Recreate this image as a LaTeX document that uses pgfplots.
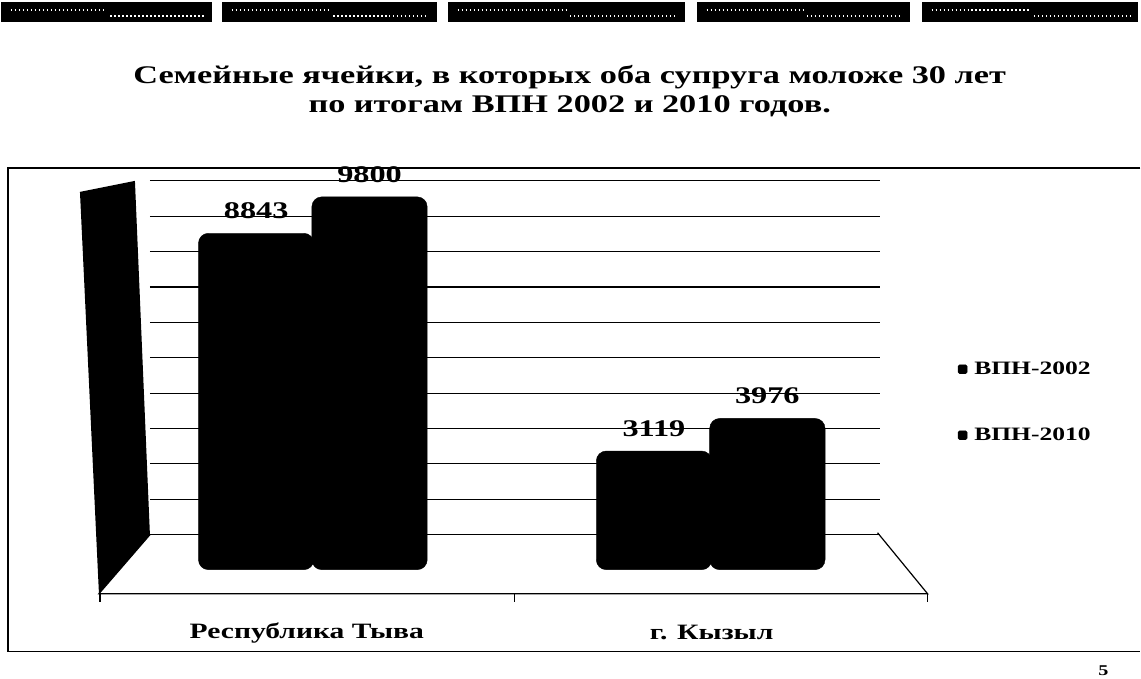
\documentclass[border=0pt]{standalone}
\usepackage{fontspec}
\setmainfont{Liberation Serif}[FakeStretch=1.35]
\usepackage{pgfplots}
\pgfplotsset{compat=1.18}
\begin{document}
\begin{tikzpicture}[x=1bp,y=1bp]
\path (0,0) rectangle (1141,678);
% top decorative strips
\foreach \a/\b in {1/212,222/437,448/685,697/910,922/1139}{
  \fill[black] (\a,656) rectangle (\b,676);
  \draw[white, line width=1.2bp, dash pattern=on 1.2bp off 2.8bp] (\a+10,668) -- (\a+0.5*\b-0.5*\a,668);
  \draw[white, line width=1.2bp, dash pattern=on 1.2bp off 2.8bp] (\a+0.5*\b-0.5*\a+4,662) -- (\b-8,662);
}
% title
\node[font=\bfseries\fontsize{25.5}{30}\selectfont] at (570,601) {Семейные ячейки, в которых оба супруга моложе 30 лет};
\node[font=\bfseries\fontsize{25.5}{30}\selectfont] at (570,572) {по итогам ВПН 2002 и 2010 годов.};
% frame
\draw[line width=1.2bp] (1141,510) -- (8,510) -- (8,26) -- (1141,26);
% page number
\node[font=\bfseries\fontsize{15}{18}\selectfont] at (1104,7) {5};
\begin{axis}[
  at={(150bp,83bp)}, anchor=south west,
  scale only axis, width=730bp, height=414bp,
  xmin=-0.407, xmax=1.427,
  ymin=-657, ymax=10220,
  axis line style={draw=none},
  tick style={draw=none},
  scaled y ticks=false,
  yticklabels={},
  ybar, bar width=0.29,
  ytick={920,1850,2780,3710,4640,5570,6500,7430,8360,9290,10220},
  ymajorgrids, grid style={black, line width=1.1bp},
  xtick=\empty,
  clip=false,
  /pgf/number format/1000 sep={},
  /pgf/number format/assume math mode=true,
  nodes near coords,
  every node near coord/.append style={font=\bfseries\fontsize{24}{28}\selectfont, black, yshift=11bp},
  legend style={at={(1.103,0.465)}, anchor=west, draw=none, fill=none,
    font=\bfseries\fontsize{19}{22}\selectfont, row sep=48bp,
    /tikz/every odd column/.append style={column sep=5bp}},
  legend image code/.code={\fill[black, rounded corners=1.5bp] (0bp,-4.5bp) rectangle (9bp,4.5bp);},
]
\addplot[fill=black, draw=black, bar shift=-0.14, rounded corners=10bp] coordinates {(0,8843) (1,3119)};
\addplot[fill=black, draw=black, bar shift=0.145, rounded corners=10bp] coordinates {(0,9800) (1,3976)};
\legend{ВПН-2002, ВПН-2010}
\end{axis}
% left wall and floor (decoration)
\fill[black] (80,486) -- (135,497) -- (150,143) -- (99,84) -- cycle;
\draw[line width=1.2bp] (150,143) -- (99,84) -- (928,84) -- (878,145);
\foreach \t in {100,515,928}{ \draw[line width=1.2bp] (\t,84) -- (\t,76); }
% category labels
\node[font=\bfseries\fontsize{22}{26}\selectfont] at (307,45) {Республика Тыва};
\node[font=\bfseries\fontsize{22}{26}\selectfont] at (712,45) {г. Кызыл};
\end{tikzpicture}
\end{document}
